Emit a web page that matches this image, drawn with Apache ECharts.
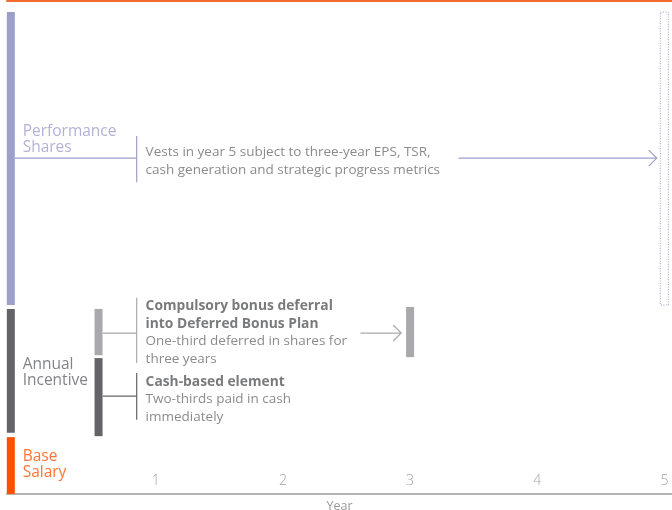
<!DOCTYPE html>
<html>
<head>
<meta charset="utf-8">
<script src="https://cdn.jsdelivr.net/npm/echarts@6/dist/echarts.min.js"></script>
<style>
  html, body { margin: 0; padding: 0; background: #fff; }
  #chart { width: 672px; height: 510px; }
</style>
</head>
<body>
<div id="chart"></div>
<script>
// x in years, y in % of chart height (0 = axis, 100 = top of package)
const years = [1, 2, 3, 4, 5]
const elementNames = ['Base Salary', 'Annual Incentive', 'Performance Shares']
const elementX = -0.14
const elementSpans = [[0, 11.8], [12.7, 38.4], [39.2, 100]]
const elementLabelY = [6.2, 25.1, 73.5]

const splitX = 0.55
const deferredSpan = [28.8, 38.4]
const cashSpan = [12.0, 28.2]
const deferredVestYear = 3
const deferredVestSpan = [28.4, 38.8]
const perfVestYear = 5
const perfVestSpan = [39.2, 100]

// connector lines [x0, y0, x1, y1]
const perfLinks = [[-0.11, 69.7, 0.85, 69.7], [0.85, 74.3, 0.85, 64.7]]
const perfArrow = [[3.38, 69.7, 4.94, 69.7]]
const deferredLinks = [[0.583, 33.4, 0.85, 33.4], [0.85, 40.7, 0.85, 27.2]]
const deferredArrow = [[2.61, 33.4, 2.93, 33.4]]
const cashLinks = [[0.583, 20.3, 0.85, 20.3], [0.85, 25.1, 0.85, 15.4]]

const noteX = 0.92
const perfNote = ['Vests in year 5 subject to three-year EPS, TSR,', 'cash generation and strategic progress metrics']
const perfNoteY = 69.0
const deferredTitle = ['Compulsory bonus deferral', 'into Deferred Bonus Plan']
const deferredNote = ['One-third deferred in shares for', 'three years']
const deferredNoteY = 33.5
const cashTitle = ['Cash-based element']
const cashNote = ['Two-thirds paid in cash', 'immediately']
const cashNoteY = 19.6

const LAVENDER = '#9d9fcb'
const DARK = '#636468'
const LIGHT = '#a9a9ad'
const ORANGE = '#ff5000'
const TEXT = '#6d6e71'
const FONT = '"Open Sans", "Noto Sans", sans-serif'

const chart = echarts.init(document.getElementById('chart'))

function barSeries(data, dotted) {
  return {
    type: 'custom',
    clip: false,
    renderItem: (params, api) => {
      const top = api.coord([api.value(0), api.value(2)])
      const bot = api.coord([api.value(0), api.value(1)])
      const w = 8
      return {
        type: 'rect',
        shape: { x: top[0] - w / 2, y: top[1], width: w, height: bot[1] - top[1] },
        style: dotted
          ? { fill: 'none', stroke: api.visual('color'), lineWidth: 1, lineDash: [1, 1.5] }
          : { fill: api.visual('color') },
      }
    },
    encode: { x: 0, y: [1, 2] },
    data: data.map((d) => ({ value: d.value, itemStyle: { color: d.color } })),
  }
}

function linkSeries(data, color, arrow) {
  return {
    type: 'custom',
    clip: false,
    renderItem: (params, api) => {
      const a = api.coord([api.value(0), api.value(1)])
      const b = api.coord([api.value(2), api.value(3)])
      const children = [{
        type: 'line',
        shape: { x1: a[0], y1: a[1], x2: b[0], y2: b[1] },
        style: { stroke: color, lineWidth: 1.2 },
      }]
      if (arrow) {
        children.push({
          type: 'polyline',
          shape: { points: [[b[0] - 8, b[1] - 8], [b[0], b[1]], [b[0] - 8, b[1] + 8]] },
          style: { stroke: color, lineWidth: 1.2, fill: 'none' },
        })
      }
      return { type: 'group', children }
    },
    encode: { x: [0, 2], y: [1, 3] },
    data,
  }
}

function textSeries(items) {
  return {
    type: 'scatter',
    symbolSize: 0,
    clip: false,
    silent: true,
    data: items.map((t) => ({
      value: [t.x, t.y],
      label: {
        show: true,
        position: 'inside',
        align: 'left',
        verticalAlign: 'middle',
        formatter: t.text,
        rich: t.rich,
        color: t.color,
        fontSize: t.size,
        lineHeight: t.lineHeight,
        fontFamily: FONT,
      },
    })),
  }
}

const elementColors = [ORANGE, DARK, LAVENDER]

const noteRich = {
  b: { fontWeight: 'bold', color: '#58595b', fontSize: 13.8, lineHeight: 17.7, fontFamily: FONT },
  n: { color: TEXT, fontSize: 13.5, lineHeight: 17.7, fontFamily: FONT },
}
const richText = (title, note) =>
  title.map((s) => '{b|' + s + '}').concat(note.map((s) => '{n|' + s + '}')).join('\n')

chart.setOption({
  animation: false,
  grid: { left: 7, right: 0, top: 1, bottom: 16, outerBoundsMode: 'none', containLabel: false },
  xAxis: [
    {
      type: 'value',
      min: -0.17,
      max: 5.06,
      name: 'Year',
      nameLocation: 'middle',
      nameGap: 6,
      nameTextStyle: { color: '#9a9a9a', fontSize: 12.5, fontFamily: FONT, verticalAlign: 'top' },
      axisLine: { show: true, lineStyle: { color: '#b4b4b4', width: 2 } },
      axisTick: { show: false },
      splitLine: { show: false },
      axisLabel: {
        inside: true,
        customValues: years,
        margin: 6,
        color: '#a3a3a3',
        fontSize: 14,
        fontFamily: FONT,
        fontWeight: 300,
      },
    },
    {
      type: 'value',
      position: 'top',
      min: -0.17,
      max: 5.06,
      axisLine: { show: true, lineStyle: { color: '#f26a2c', width: 2 } },
      axisTick: { show: false },
      axisLabel: { show: false },
      splitLine: { show: false },
    },
  ],
  yAxis: { type: 'value', min: 0, max: 102.3, show: false, splitLine: { show: false } },
  series: [
    barSeries(elementSpans.map((s, i) => ({ value: [elementX, s[0], s[1]], color: elementColors[i] })).concat([
      { value: [splitX, deferredSpan[0], deferredSpan[1]], color: LIGHT },
      { value: [splitX, cashSpan[0], cashSpan[1]], color: DARK },
      { value: [deferredVestYear, deferredVestSpan[0], deferredVestSpan[1]], color: LIGHT },
    ])),
    barSeries([{ value: [perfVestYear, perfVestSpan[0], perfVestSpan[1]], color: LAVENDER }], true),
    linkSeries(perfLinks, LAVENDER, false),
    linkSeries(perfArrow, LAVENDER, true),
    linkSeries(deferredLinks, LIGHT, false),
    linkSeries(deferredArrow, LIGHT, true),
    linkSeries(cashLinks, DARK, false),
    textSeries([
      ...elementNames.map((n, i) => ({
        x: -0.047, y: elementLabelY[i], text: n.replace(' ', '\n'),
        color: elementColors[i], size: 15.5, lineHeight: 16,
      })),
      { x: noteX, y: perfNoteY, text: perfNote.join('\n'), color: TEXT, size: 13.5, lineHeight: 18 },
      { x: noteX, y: deferredNoteY, text: richText(deferredTitle, deferredNote), rich: noteRich },
      { x: noteX, y: cashNoteY, text: richText(cashTitle, cashNote), rich: noteRich },
    ]),
  ],
})
</script>
</body>
</html>
